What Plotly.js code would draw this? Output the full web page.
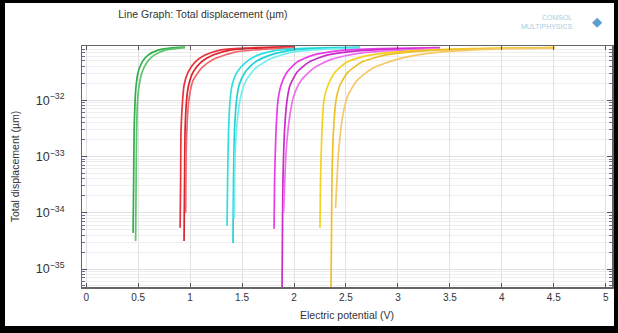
<!DOCTYPE html>
<html>
<head>
<meta charset="utf-8">
<script src="https://cdn.plot.ly/plotly-3.0.1.min.js"></script>
<style>
html,body{margin:0;padding:0;background:#000;width:618px;height:333px;overflow:hidden;}
#plot{position:absolute;left:5px;top:3px;width:609px;height:323px;background:#fff;}
</style>
</head>
<body>
<div id="plot"></div>
<script>
// Electric potential (V) and total displacement (µm)
const greenA_x = [0.452,0.457,0.4615,0.471,0.481,0.5,0.538,0.596,0.692,0.808,0.952];
const greenA_y = [4.39e-35,3.73e-34,2.91e-33,1.0e-32,1.85e-32,3.16e-32,4.77e-32,6.36e-32,7.81e-32,8.48e-32,8.84e-32];
const greenB_x = [0.476,0.481,0.486,0.495,0.51,0.538,0.587,0.654,0.76,0.952];
const greenB_y = [3.16e-35,3.73e-34,2.91e-33,1.0e-32,1.85e-32,3.16e-32,4.77e-32,6.36e-32,7.81e-32,8.66e-32];

const redA_x = [0.904,0.909,0.913,0.928,0.942,0.981,1.048,1.144,1.288,1.529,1.817,2.01];
const redA_y = [5.40e-35,3.73e-34,2.91e-33,1.0e-32,1.85e-32,3.16e-32,4.77e-32,6.36e-32,7.81e-32,8.48e-32,8.84e-32,9.03e-32];
const redB_x = [0.942,0.947,0.952,0.966,0.986,1.029,1.106,1.221,1.385,1.673,2.01];
const redB_y = [3.16e-35,3.73e-34,2.91e-33,1.0e-32,1.85e-32,3.16e-32,4.77e-32,6.36e-32,7.81e-32,8.48e-32,8.84e-32];
const redC_x = [0.958,0.963,0.976,0.995,1.03,1.11,1.23,1.433,1.721,2.01];
const redC_y = [1.0e-34,1.28e-33,5.40e-33,1.23e-32,2.28e-32,3.73e-32,5.40e-32,7.20e-32,8.14e-32,8.66e-32];

const cyanA_x = [1.356,1.361,1.37,1.385,1.404,1.452,1.538,1.654,1.846,2.154,2.635];
const cyanA_y = [5.86e-35,3.73e-34,2.91e-33,1.0e-32,1.85e-32,3.16e-32,4.77e-32,6.36e-32,7.81e-32,8.48e-32,8.84e-32];
const cyanB_x = [1.413,1.418,1.428,1.447,1.471,1.529,1.625,1.769,1.981,2.298,2.635];
const cyanB_y = [2.91e-35,3.73e-34,2.91e-33,1.0e-32,1.85e-32,3.16e-32,4.77e-32,6.36e-32,7.81e-32,8.48e-32,8.66e-32];
const cyanC_x = [1.425,1.435,1.46,1.49,1.54,1.63,1.769,1.981,2.298,2.635];
const cyanC_y = [8.0e-35,1.28e-33,5.40e-33,1.23e-32,2.28e-32,3.73e-32,5.40e-32,7.20e-32,8.14e-32,8.48e-32];

const magA_x = [1.808,1.813,1.827,1.846,1.875,1.933,2.029,2.183,2.442,2.827,3.404];
const magA_y = [5.18e-35,3.73e-34,2.91e-33,1.0e-32,1.85e-32,3.16e-32,4.77e-32,6.36e-32,7.65e-32,8.31e-32,8.66e-32];
const magB_x = [1.885,1.889,1.894,1.909,1.933,1.962,2.029,2.144,2.317,2.587,2.971,3.404];
const magB_y = [4.05e-36,4.77e-35,3.73e-34,2.91e-33,1.0e-32,1.85e-32,3.16e-32,4.77e-32,6.36e-32,7.50e-32,8.14e-32,8.48e-32];
const magC_x = [1.90,1.925,1.96,2.0,2.07,2.19,2.365,2.635,3.019,3.404];
const magC_y = [1.0e-34,1.28e-33,5.40e-33,1.23e-32,2.28e-32,3.73e-32,5.40e-32,6.91e-32,7.81e-32,8.31e-32];

const yelA_x = [2.25,2.255,2.269,2.288,2.327,2.394,2.51,2.683,2.971,3.404,3.981,4.51];
const yelA_y = [5.40e-35,3.73e-34,2.91e-33,1.0e-32,1.85e-32,3.16e-32,4.77e-32,6.11e-32,7.20e-32,7.98e-32,8.48e-32,8.66e-32];
const yelB_x = [2.356,2.361,2.365,2.38,2.404,2.442,2.519,2.654,2.875,3.212,3.692,4.173,4.51];
const yelB_y = [4.05e-36,4.77e-35,3.73e-34,2.91e-33,1.0e-32,1.85e-32,3.16e-32,4.77e-32,6.36e-32,7.50e-32,8.14e-32,8.48e-32,8.66e-32];
const yelC_x = [2.40,2.43,2.47,2.52,2.61,2.76,3.0,3.308,3.692,4.077,4.51];
const yelC_y = [1.2e-34,1.28e-33,5.40e-33,1.23e-32,2.28e-32,3.73e-32,5.40e-32,6.91e-32,7.81e-32,8.31e-32,8.48e-32];

const xTickVals = [0,0.5,1,1.5,2,2.5,3,3.5,4,4.5,5];
const xTickText = ['0','0.5','1','1.5','2','2.5','3','3.5','4','4.5','5'];

const series = [
  [greenA_x, greenA_y, '#2fae4a'], [greenB_x, greenB_y, '#5cc46c'],
  [redA_x, redA_y, '#e8343c'], [redB_x, redB_y, '#d9232d'], [redC_x, redC_y, '#f0666a'],
  [cyanA_x, cyanA_y, '#2fe0e0'], [cyanB_x, cyanB_y, '#22d2d6'], [cyanC_x, cyanC_y, '#6ff0f0'],
  [magA_x, magA_y, '#e83ce6'], [magB_x, magB_y, '#c92cc8'], [magC_x, magC_y, '#f06ef0'],
  [yelA_x, yelA_y, '#f2d21e'], [yelB_x, yelB_y, '#eec028'], [yelC_x, yelC_y, '#f6c868']
];

const traces = series.map(s => ({
  x: s[0], y: s[1], type: 'scatter', mode: 'lines',
  line: {color: s[2], width: 1.7, shape: 'spline', smoothing: 0.6},
  showlegend: false, hoverinfo: 'skip'
}));

const font = {family: 'Liberation Sans, Arial, sans-serif', size: 10, color: '#333'};

const layout = {
  width: 609, height: 323,
  margin: {l: 77, r: 2, t: 43, b: 39},
  paper_bgcolor: '#fff', plot_bgcolor: '#fff',
  font: font,
  title: {text: 'Line Graph: Total displacement (µm)', font: {family: font.family, size: 10.5, color: '#333'},
          x: 0.186, xref: 'container', xanchor: 'left', y: 0.965, yref: 'container', yanchor: 'middle'},
  xaxis: {
    range: [-0.04, 5.06], tickvals: xTickVals, ticktext: xTickText,
    ticks: 'inside', ticklen: 4, tickcolor: '#555', showline: true, linecolor: '#666', linewidth: 1.5, mirror: 'ticks',
    showgrid: true, gridcolor: '#e2e2e2', gridwidth: 1, zeroline: false,
    tickfont: font,
    title: {text: 'Electric potential (V)', font: {family: font.family, size: 10.5, color: '#333'}, standoff: 10}
  },
  yaxis: {
    type: 'log', range: [-35.32, -31.035], dtick: 1, exponentformat: 'power',
    ticks: 'inside', ticklen: 5, tickcolor: '#555', showline: true, linecolor: '#666', linewidth: 1.5, mirror: 'ticks',
    showgrid: true, gridcolor: '#e0e0e0', gridwidth: 1, zeroline: false,
    ticklabelstandoff: 14,
    minor: {ticks: 'inside', ticklen: 3, tickcolor: '#6a6a9a', showgrid: true, gridcolor: '#eeeeee', gridwidth: 1},
    tickfont: font,
    title: {text: 'Total displacement (µm)', font: {family: font.family, size: 10.5, color: '#333'}, standoff: 14}
  },
  annotations: [
    {text: 'COMSOL<br>MULTIPHYSICS', xref: 'paper', yref: 'paper', x: 0.93, y: 1.1, xanchor: 'right', yanchor: 'middle',
     showarrow: false, align: 'right', font: {family: font.family, size: 7, color: '#a9cce3'}},
    {text: '◆', xref: 'paper', yref: 'paper', x: 0.985, y: 1.1, xanchor: 'right', yanchor: 'middle',
     showarrow: false, font: {family: 'DejaVu Sans', size: 13, color: '#5a9fd0'}}
  ]
};

Plotly.newPlot('plot', traces, layout, {displayModeBar: false, staticPlot: true});
</script>
</body>
</html>
